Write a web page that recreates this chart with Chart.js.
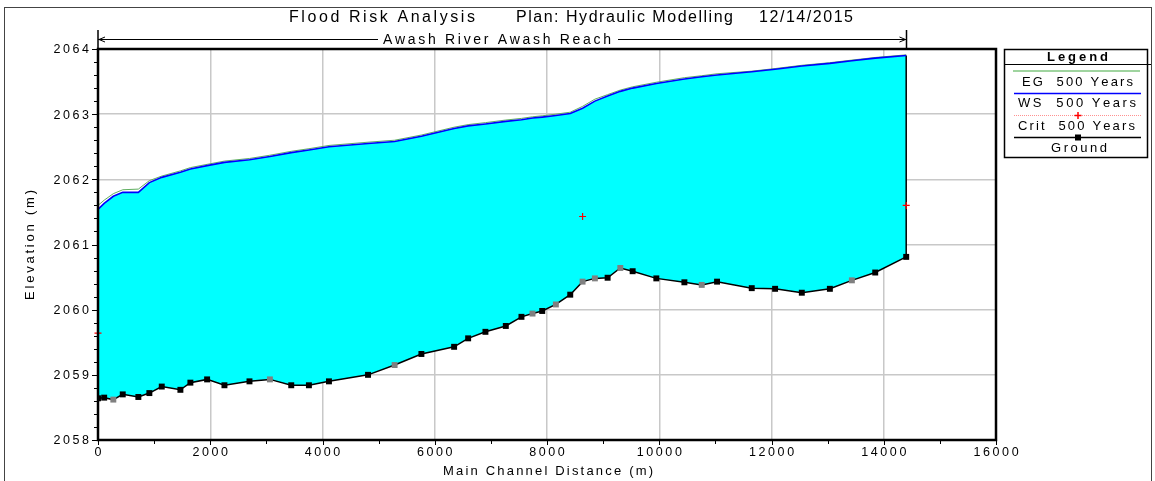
<!DOCTYPE html>
<html>
<head>
<meta charset="utf-8">
<title>Flood Risk Analysis</title>
<script src="https://cdn.jsdelivr.net/npm/chart.js@4.4.1/dist/chart.umd.min.js"></script>
<style>
  html, body { margin: 0; padding: 0; background: #fff; }
  canvas { display: block; }
</style>
</head>
<body>
<canvas id="profile" width="1155" height="481"></canvas>
<script>
// River stations along the main channel (m)
const stations = [0, 110, 273, 441, 719, 915, 1136, 1468, 1646, 1944, 2253, 2699, 3063, 3443, 3758,
  4115, 4811, 5285, 5762, 6345, 6595, 6903, 7266, 7545, 7742, 7915, 8158, 8414, 8634, 8853, 9080,
  9306, 9526, 9948, 10448, 10757, 11030, 11648, 12064, 12540, 13040, 13432, 13848, 14400];

// Channel bed (m)
const ground = [2058.64, 2058.65, 2058.62, 2058.70, 2058.66, 2058.72, 2058.82, 2058.77, 2058.88, 2058.93,
  2058.84, 2058.90, 2058.93, 2058.84, 2058.84, 2058.90, 2059.00, 2059.15, 2059.32, 2059.43, 2059.56,
  2059.66, 2059.75, 2059.89, 2059.94, 2059.98, 2060.08, 2060.23, 2060.43, 2060.48, 2060.49, 2060.64,
  2060.59, 2060.48, 2060.42, 2060.38, 2060.43, 2060.33, 2060.32, 2060.26, 2060.32, 2060.45, 2060.57, 2060.81];

// Water surface, 500 year event (m)
const ws500 = [2061.54, 2061.63, 2061.74, 2061.80, 2061.80, 2061.95, 2062.03, 2062.11, 2062.16, 2062.21,
  2062.26, 2062.30, 2062.35, 2062.41, 2062.45, 2062.50, 2062.55, 2062.58, 2062.66, 2062.78, 2062.82,
  2062.85, 2062.89, 2062.915, 2062.94, 2062.955, 2062.98, 2063.01, 2063.09, 2063.20, 2063.28, 2063.35,
  2063.40, 2063.47, 2063.54, 2063.575, 2063.60, 2063.65, 2063.69, 2063.74, 2063.78, 2063.82, 2063.86, 2063.90];

// Energy grade line, 500 year event (m)
const eg500 = [2061.60, 2061.68, 2061.78, 2061.84, 2061.85, 2061.98, 2062.05, 2062.13, 2062.18, 2062.23,
  2062.28, 2062.32, 2062.37, 2062.43, 2062.47, 2062.52, 2062.57, 2062.60, 2062.68, 2062.80, 2062.84,
  2062.87, 2062.91, 2062.935, 2062.96, 2062.975, 2063.00, 2063.03, 2063.12, 2063.23, 2063.30, 2063.37,
  2063.42, 2063.49, 2063.56, 2063.59, 2063.62, 2063.66, 2063.70, 2063.75, 2063.79, 2063.83, 2063.87, 2063.91];

// Critical depth, only where it was computed
const critStations = [0, 8634, 14400];
const crit500 = [2059.64, 2061.43, 2061.60];

// Interpolated cross sections (grey markers)
const interpolatedStations = [273, 3063, 5285, 7742, 8158, 8634, 8853, 9306, 10757, 13432];

const xTicks = [0, 2000, 4000, 6000, 8000, 10000, 12000, 14000, 16000];
const yTicks = [2058, 2059, 2060, 2061, 2062, 2063, 2064];

const FONT = '"Liberation Sans", Arial, sans-serif';
const toPoints = (xs, ys) => xs.map((x, i) => ({ x, y: ys[i] }));
const last = arr => arr[arr.length - 1];

// draw a string so that it spans x0..x1, spreading the letters evenly
function fitText(ctx, str, x0, x1, y, font) {
  ctx.font = font;
  const chars = [...str];
  const widths = chars.map(c => ctx.measureText(c).width);
  const total = widths.reduce((s, w) => s + w, 0);
  const gap = chars.length > 1 ? (x1 - x0 - total) / (chars.length - 1) : 0;
  ctx.textAlign = 'left';
  ctx.textBaseline = 'middle';
  let x = x0;
  chars.forEach((c, i) => { ctx.fillText(c, x, y); x += widths[i] + gap; });
}

// letter-spaced text anchored at left / center / right
function spacedText(ctx, str, x, y, gap, align) {
  const chars = [...str];
  const widths = chars.map(c => ctx.measureText(c).width);
  const total = widths.reduce((s, w) => s + w, 0) + gap * (chars.length - 1);
  let cx = align === 'right' ? x - total : align === 'center' ? x - total / 2 : x;
  ctx.textAlign = 'left';
  ctx.textBaseline = 'middle';
  chars.forEach((c, i) => { ctx.fillText(c, cx, y); cx += widths[i] + gap; });
}

function seg(ctx, x1, y1, x2, y2) {
  ctx.beginPath();
  ctx.moveTo(x1, y1);
  ctx.lineTo(x2, y2);
  ctx.stroke();
}

const decor = {
  id: 'decor',
  beforeDraw(chart) {
    const ctx = chart.ctx;
    ctx.save();
    ctx.fillStyle = '#fff';
    ctx.fillRect(0, 0, chart.width, chart.height);
    ctx.restore();
  },
  afterDraw(chart) {
    const ctx = chart.ctx;
    const a = chart.chartArea;
    const xs = chart.scales.x, ys = chart.scales.y;
    ctx.save();
    ctx.fillStyle = '#000';
    ctx.strokeStyle = '#000';

    // plot frame
    ctx.lineWidth = 2.5;
    ctx.strokeRect(a.left, a.top, a.right - a.left, a.bottom - a.top);

    // tick marks
    ctx.lineWidth = 1;
    for (let v = xTicks[0]; v <= last(xTicks); v += 1000) {
      const px = Math.round(xs.getPixelForValue(v)) + 0.5;
      seg(ctx, px, a.bottom, px, a.bottom + (v % 2000 === 0 ? 5 : 4));
    }
    for (let i = 0; i <= 30; i++) {
      const py = Math.round(ys.getPixelForValue(yTicks[0] + i * 0.2)) + 0.5;
      seg(ctx, a.left, py, a.left - (i % 5 === 0 ? 6 : 4), py);
    }

    // tick labels
    ctx.font = '12.5px ' + FONT;
    xTicks.forEach(v => spacedText(ctx, String(v), xs.getPixelForValue(v), 452.5, 2.6, 'center'));
    yTicks.forEach(v => spacedText(ctx, String(v), 89, ys.getPixelForValue(v) + 1, 2.6, 'right'));

    // axis titles
    fitText(ctx, 'Main Channel Distance (m)', 443, 653, 471, '13px ' + FONT);
    ctx.save();
    ctx.translate(30, 300);
    ctx.rotate(-Math.PI / 2);
    fitText(ctx, 'Elevation (m)', 0, 110, 0, '13px ' + FONT);
    ctx.restore();

    // title line
    const tf = '16px ' + FONT;
    fitText(ctx, 'Flood Risk Analysis', 289, 475, 18, tf);
    fitText(ctx, 'Plan: Hydraulic Modelling', 516, 733, 18, tf);
    fitText(ctx, '12/14/2015', 759, 853, 18, tf);

    // reach extent arrow
    const rx0 = xs.getPixelForValue(stations[0]);
    const rx1 = Math.round(xs.getPixelForValue(last(stations))) + 0.5;
    ctx.lineWidth = 1;
    seg(ctx, rx0, 39.5, rx1, 39.5);
    ctx.lineWidth = 1.5;
    seg(ctx, rx0, 30, rx0, 48);
    seg(ctx, rx1, 30, rx1, 48);
    ctx.lineWidth = 1;
    seg(ctx, rx0 + 1, 39.5, rx0 + 7, 37);
    seg(ctx, rx0 + 1, 39.5, rx0 + 7, 42);
    seg(ctx, rx1 - 1, 39.5, rx1 - 7, 37);
    seg(ctx, rx1 - 1, 39.5, rx1 - 7, 42);
    ctx.fillStyle = '#fff';
    ctx.fillRect(378, 32, 240, 15);
    ctx.fillStyle = '#000';
    fitText(ctx, 'Awash River Awash Reach', 383, 611, 40, '14px ' + FONT);

    // legend box
    const lf = '13px ' + FONT;
    ctx.lineWidth = 1.5;
    ctx.strokeRect(1004.5, 49.5, 143, 108);
    ctx.lineWidth = 1;
    seg(ctx, 1004, 64.5, 1151, 64.5);
    fitText(ctx, 'Legend', 1047, 1108, 57, 'bold 13px ' + FONT);

    ctx.lineWidth = 2;
    ctx.strokeStyle = '#9fd49f';
    seg(ctx, 1013, 71, 1140, 71);
    fitText(ctx, 'EG  500 Years', 1022, 1133, 82, lf);

    ctx.lineWidth = 1.5;
    ctx.strokeStyle = '#0000ff';
    seg(ctx, 1014, 93.5, 1141, 93.5);
    fitText(ctx, 'WS  500 Years', 1018, 1136, 103.5, lf);

    ctx.lineWidth = 1;
    ctx.strokeStyle = '#ff9090';
    ctx.setLineDash([1, 1]);
    seg(ctx, 1014, 115.5, 1141, 115.5);
    ctx.setLineDash([]);
    ctx.strokeStyle = '#ff0000';
    ctx.lineWidth = 1.5;
    seg(ctx, 1074.5, 115.5, 1081.5, 115.5);
    seg(ctx, 1078, 112, 1078, 119);
    fitText(ctx, 'Crit  500 Years', 1018, 1135, 126, lf);

    ctx.strokeStyle = '#000';
    ctx.lineWidth = 1.5;
    seg(ctx, 1014, 137.5, 1141, 137.5);
    ctx.fillRect(1075, 134.5, 6, 6);
    fitText(ctx, 'Ground', 1051, 1107, 148, lf);

    // outer frame
    ctx.strokeStyle = '#444';
    ctx.lineWidth = 1;
    ctx.strokeRect(4.5, 7.5, 1147, 490);
    ctx.restore();
  }
};

new Chart(document.getElementById('profile'), {
  type: 'scatter',
  data: {
    datasets: [
      {
        label: 'Ground',
        data: toPoints(stations, ground),
        showLine: true,
        borderColor: '#000',
        borderWidth: 1.5,
        pointStyle: 'rect',
        pointRadius: 4.2,
        pointBorderWidth: 0,
        pointBackgroundColor: stations.map(s => interpolatedStations.includes(s) ? '#808080' : '#000'),
        fill: false
      },
      {
        label: 'Crit 500 Years',
        data: toPoints(critStations, crit500),
        showLine: false,
        pointStyle: 'cross',
        pointRadius: 3.5,
        pointBorderWidth: 1.2,
        pointBorderColor: '#ff0000',
        clip: false
      },
      {
        label: 'WS 500 Years',
        data: toPoints(stations, ws500),
        showLine: true,
        borderColor: '#0000ff',
        borderWidth: 1.6,
        backgroundColor: '#00ffff',
        pointRadius: 0,
        fill: 0
      },
      {
        label: 'EG 500 Years',
        data: toPoints(stations, eg500),
        showLine: true,
        borderColor: '#5fae5f',
        borderWidth: 1,
        pointRadius: 0,
        fill: false
      },
      {
        // closing wall at the downstream section
        label: 'edge',
        data: [{ x: last(stations), y: last(ground) }, { x: last(stations), y: last(ws500) }],
        showLine: true,
        borderColor: '#000',
        borderWidth: 1.5,
        pointRadius: 0,
        fill: false
      }
    ]
  },
  options: {
    responsive: false,
    animation: false,
    devicePixelRatio: 1,
    layout: { padding: { top: 49, right: 159, left: 0, bottom: 0 } },
    plugins: {
      legend: { display: false },
      tooltip: { enabled: false },
      filler: { drawTime: 'beforeDatasetsDraw' }
    },
    scales: {
      x: {
        type: 'linear',
        min: xTicks[0],
        max: last(xTicks),
        ticks: { display: false, stepSize: 2000 },
        grid: { color: '#c8c8c8', lineWidth: 1.5, drawTicks: false },
        border: { display: false },
        afterFit(scale) { scale.height = 41; }
      },
      y: {
        type: 'linear',
        min: yTicks[0],
        max: last(yTicks),
        ticks: { display: false, stepSize: 1 },
        grid: { color: '#c8c8c8', lineWidth: 1.5, drawTicks: false },
        border: { display: false },
        afterFit(scale) { scale.width = 98; }
      }
    }
  },
  plugins: [decor]
});
</script>
</body>
</html>
